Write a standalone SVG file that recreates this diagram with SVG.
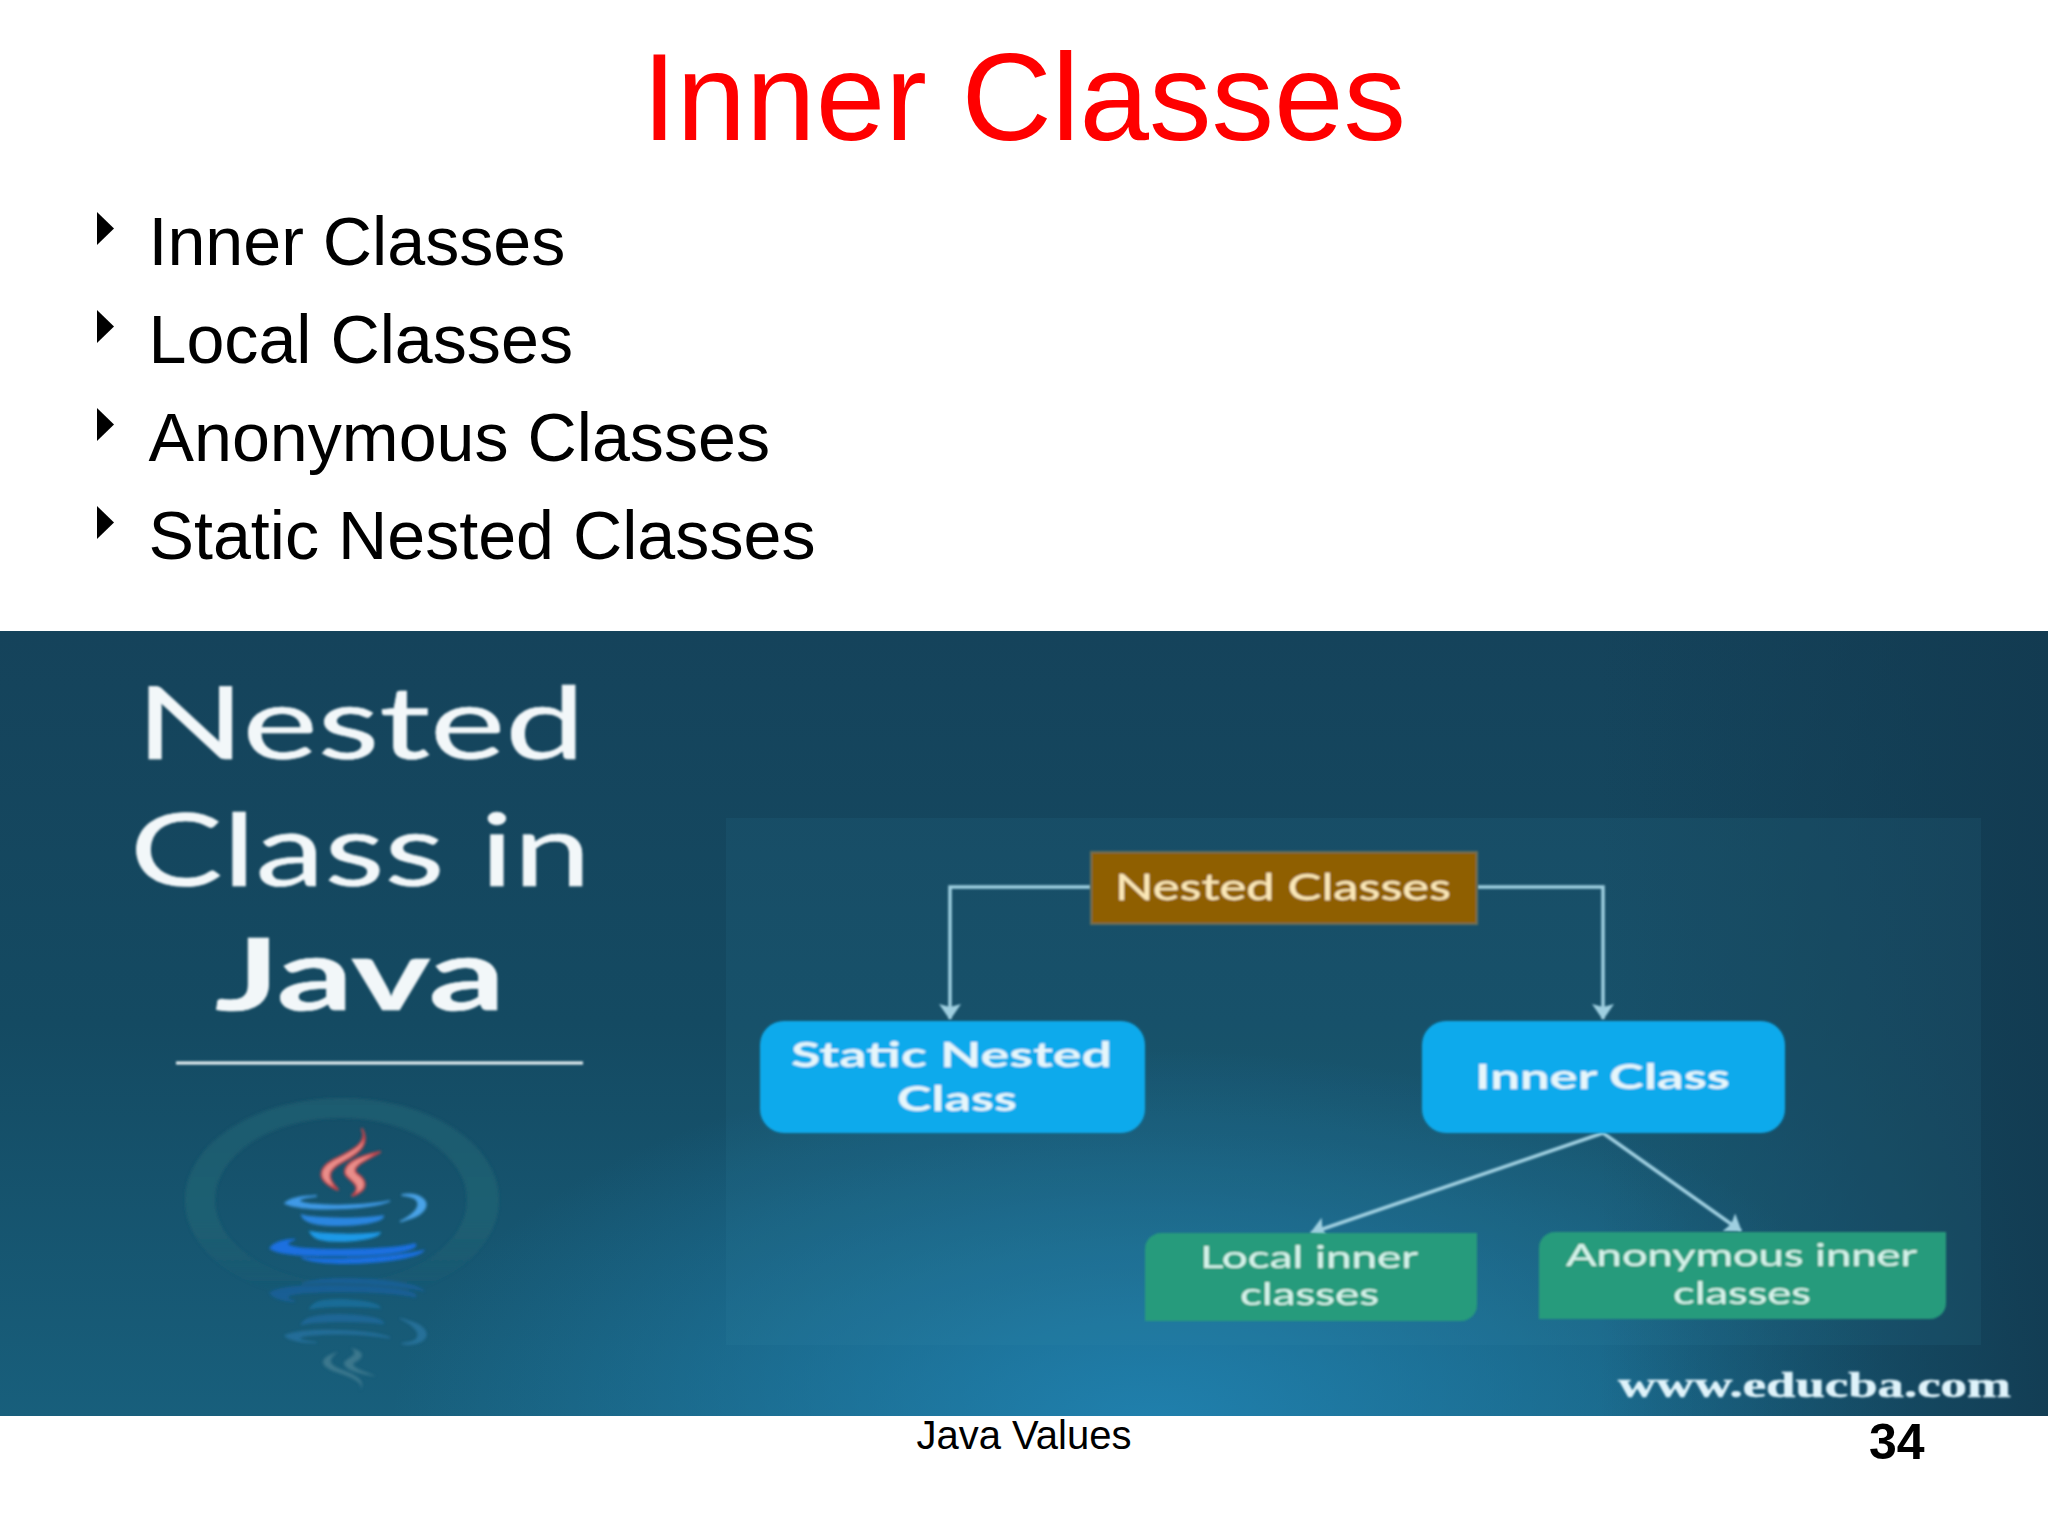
<svg xmlns="http://www.w3.org/2000/svg" width="2048" height="1536" viewBox="0 0 2048 1536">
<style>
.sl{font-family:"Liberation Sans",Arial,sans-serif}
.b{font-size:68.200px;fill:#000}
.os{font-family:Lato,"Open Sans",sans-serif}
.h{font-size:100px;fill:#f2f7f9;stroke:#f2f7f9;stroke-width:.6}
.c{fill:none;stroke:#9fcfe0;stroke-width:3.500}
.blue{fill:#0caaec}
.green{fill:#259b7c}
.bt{font-size:34px;font-weight:700;fill:#e6f6fb}
.gt{font-size:30px;fill:#d6f3ea;stroke:#d6f3ea;stroke-width:.2}
</style>
<defs>
<filter id="soft" x="-5%" y="-5%" width="110%" height="110%"><feGaussianBlur stdDeviation=".8"/></filter>
<filter id="softer" x="-10%" y="-10%" width="120%" height="120%"><feGaussianBlur stdDeviation="1.600"/></filter>
<linearGradient id="bg" x1="0" y1="0" x2="0" y2="1"><stop offset="0" stop-color="#15435b"/><stop offset=".5" stop-color="#144a62"/><stop offset="1" stop-color="#185f7c"/></linearGradient>
<radialGradient id="glow" gradientUnits="userSpaceOnUse" cx="1150" cy="1430" r="760" gradientTransform="translate(0 715) scale(1 .5)"><stop offset="0" stop-color="#2184b3" stop-opacity=".9"/><stop offset="1" stop-color="#2184b3" stop-opacity="0"/></radialGradient>
<linearGradient id="dark" x1="0" y1="0" x2="1" y2="0"><stop offset="0" stop-color="#123a50" stop-opacity="0"/><stop offset="1" stop-color="#123a50" stop-opacity=".9"/></linearGradient>
<linearGradient id="ringfade" x1="0" y1="0" x2="0" y2="1"><stop offset="0" stop-color="#1e5a6e"/><stop offset=".6" stop-color="#1e5f72"/><stop offset=".95" stop-color="#1e5f72" stop-opacity="0"/></linearGradient>
<marker id="ah" markerUnits="userSpaceOnUse" markerWidth="16" markerHeight="22" refX="15" refY="11" orient="auto"><path d="M0 0L16 11L0 22L3 11Z" fill="#9fcfe0"/></marker>
<g id="cup" stroke-width="4">
<path fill="#3f9ae6" stroke="#3f9ae6" d="M345 340C360 325 400 318 440 318C380 325 370 335 420 342C500 350 600 345 660 333C600 360 400 365 345 340Z"/>
<path fill="#4aa3e8" stroke="#4aa3e8" d="M695 315C740 305 780 330 765 355C750 380 720 385 690 395C730 375 755 350 740 330C730 318 710 318 695 315Z"/>
<path fill="#2a86e0" stroke="#2a86e0" d="M395 375C420 385 560 390 640 378C640 395 560 410 470 405C430 402 400 395 395 375Z"/>
<path fill="#1f9ae8" stroke="#1f9ae8" d="M420 425C470 435 570 435 630 428C620 450 500 460 450 448C430 442 425 435 420 425Z"/>
<path fill="#1a6fe0" stroke="#1a6fe0" d="M300 475C310 458 345 448 375 448C340 458 345 470 400 475C500 482 660 480 735 462C750 475 690 490 600 495C480 500 330 500 300 475Z"/>
<path fill="#1a6fe0" stroke="#1a6fe0" d="M395 503C470 512 660 505 760 482C740 505 620 520 530 520C470 520 420 515 395 503Z"/>
</g>
<g id="steam">
<path d="M575 115C600 160 540 185 490 210C445 235 435 270 505 300C470 265 470 240 520 215C575 185 600 160 575 115Z"/>
<path d="M632 185C580 195 520 215 525 250C530 270 585 285 545 318C600 300 590 270 560 250C540 230 590 210 632 185Z"/>
</g>
</defs>
<rect width="2048" height="1536" fill="#fff"/>
<g id="title"><text class="sl" x="1024" y="140" font-size="125" fill="#f00" text-anchor="middle">Inner Classes</text></g>
<g id="bullets" class="sl">
<path d="M97 212L114 228.500L97 245Z"/><text class="sl b" x="148.500" y="264.700">Inner Classes</text>
<path d="M97 310L114 326.500L97 343Z"/><text class="sl b" x="148.500" y="362.700">Local Classes</text>
<path d="M97 408L114 424.500L97 441Z"/><text class="sl b" x="148.500" y="460.700">Anonymous Classes</text>
<path d="M97 506L114 522.500L97 539Z"/><text class="sl b" x="148.500" y="558.700">Static Nested Classes</text>
</g>
<g id="picture">
<rect y="631" width="2048" height="785" fill="url(#bg)"/>
<rect y="631" width="2048" height="785" fill="url(#glow)"/>
<rect x="1600" y="631" width="448" height="785" fill="url(#dark)"/>
<rect x="726" y="818" width="1255" height="527" fill="#3a94b0" opacity=".1"/>
</g>
<g id="heading" filter="url(#soft)">
<text class="os h" x="136" y="759" textLength="449" lengthAdjust="spacingAndGlyphs">Nested</text>
<text class="os h" x="130" y="886" textLength="461" lengthAdjust="spacingAndGlyphs">Class in</text>
<text class="os h" x="215" y="1010" font-weight="700" textLength="290" lengthAdjust="spacingAndGlyphs">Java</text>
<path d="M176 1063H583" stroke="#eef5f7" stroke-width="3"/>
</g>
<g id="java-logo" filter="url(#softer)">
<path fill="url(#ringfade)" fill-rule="evenodd" d="M185 1200A157 102 0 1 0 499 1200A157 102 0 1 0 185 1200ZM215 1200A126 82 0 1 1 467 1200A126 82 0 1 1 215 1200Z"/>
<g transform="translate(170 1090) scale(.3333)">
<use href="#steam" fill="#e98f8b" stroke="#c9424a" stroke-width="6"/>
<use href="#cup"/>
<use href="#cup" transform="matrix(1 0 0 -.95 0 1060)" opacity=".3"/>
<use href="#steam" transform="matrix(.9 0 0 -.65 50 980)" fill="#5a8f9e" opacity=".55"/>
</g>
</g>
<g id="connectors" filter="url(#soft)">
<path class="c" d="M1091 887H950V1019" marker-end="url(#ah)"/>
<path class="c" d="M1477 887H1603V1019" marker-end="url(#ah)"/>
<path class="c" d="M1603 1133L1311 1233" marker-end="url(#ah)"/>
<path class="c" d="M1603 1133L1741 1231" marker-end="url(#ah)"/>
</g>
<g id="node-nested" filter="url(#soft)">
<rect x="1091" y="852" width="386" height="72" fill="#8f5f06" stroke="#66705a" stroke-width="2"/>
<text class="os" x="1115" y="899.500" font-size="37" fill="#fbe8b8" stroke="#fbe8b8" stroke-width=".3" textLength="336" lengthAdjust="spacingAndGlyphs">Nested Classes</text>
</g>
<g id="node-static" filter="url(#soft)">
<rect class="blue" x="760" y="1021" width="385" height="112" rx="24"/>
<text class="os bt" x="791" y="1067" textLength="321" lengthAdjust="spacingAndGlyphs">Static Nested</text>
<text class="os bt" x="897" y="1111" textLength="120" lengthAdjust="spacingAndGlyphs">Class</text>
</g>
<g id="node-inner" filter="url(#soft)">
<rect class="blue" x="1422" y="1021" width="363" height="112" rx="24"/>
<text class="os bt" x="1475" y="1089" textLength="255" lengthAdjust="spacingAndGlyphs">Inner Class</text>
</g>
<g id="node-local" filter="url(#soft)">
<path class="green" d="M1161 1233H1477V1305A16 16 0 0 1 1461 1321H1145V1249A16 16 0 0 1 1161 1233Z"/>
<text class="os gt" x="1200" y="1268" textLength="218" lengthAdjust="spacingAndGlyphs">Local inner</text>
<text class="os gt" x="1240" y="1305" textLength="139" lengthAdjust="spacingAndGlyphs">classes</text>
</g>
<g id="node-anonymous" filter="url(#soft)">
<path class="green" d="M1555 1232H1946V1303A16 16 0 0 1 1930 1319H1539V1248A16 16 0 0 1 1555 1232Z"/>
<text class="os gt" x="1566" y="1266" textLength="351" lengthAdjust="spacingAndGlyphs">Anonymous inner</text>
<text class="os gt" x="1673" y="1304" textLength="138" lengthAdjust="spacingAndGlyphs">classes</text>
</g>
<g id="watermark" filter="url(#soft)"><text x="1618" y="1397" font-family="'Liberation Serif',serif" font-weight="700" font-size="35" fill="#dff3fa" stroke="#dff3fa" stroke-width=".5" textLength="393" lengthAdjust="spacingAndGlyphs">www.educba.com</text></g>
<g id="footer" class="sl">
<text class="sl" x="1024" y="1449" font-size="40" text-anchor="middle">Java Values</text>
<text class="sl" x="1869" y="1459" font-size="50" font-weight="700">34</text>
</g>
</svg>
